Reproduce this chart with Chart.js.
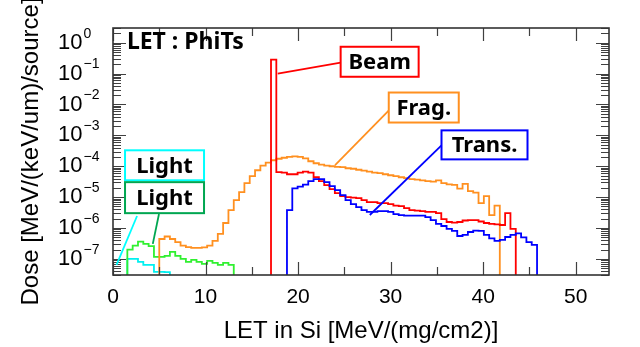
<!DOCTYPE html>
<html>
<head>
<meta charset="utf-8">
<title>LET : PhiTs</title>
<script src="https://cdn.jsdelivr.net/npm/chart.js@4.4.1/dist/chart.umd.min.js"></script>
<style>
  html, body { margin: 0; padding: 0; background: #fff; }
  #wrap { position: relative; width: 640px; height: 347px; }
</style>
</head>
<body>
<div id="wrap"><canvas id="let-chart"></canvas></div>
<script>
//
// LET spectrum in Si (PHITS), dose per LET bin
//

// LET bins, MeV/(mg/cm2)
const binOrigin = 0.4;
const binWidth = 0.575;

// y axis decades that get a label (10^k)
const yTickExponents = [0, -1, -2, -3, -4, -5, -6, -7];

// Light (cyan)
const cyanFirstBin = 2;
const cyanDose = [1.0e-7, 1.0e-7, 8.0e-8, 6.4e-8, 6.4e-8, 3.8e-8, 3.8e-8, 3.7e-8];

// Light (green)
const greenFirstBin = 2;
const greenDose = [
  2.0e-7, 2.7e-7, 3.6e-7, 3.05e-7, 2.6e-7, 1.16e-7, 1.16e-7, 1.25e-7, 1.68e-7, 1.25e-7,
  1.0e-7, 8.0e-8, 9.3e-8, 8.0e-8, 6.9e-8, 8.6e-8, 7.4e-8, 6.4e-8, 7.4e-8, 6.4e-8
];

// Frag. (orange)
const fragFirstBin = 8;
const fragDose = [
  4.4e-7, 5.3e-7, 4.4e-7, 3.5e-7, 2.7e-7, 2.4e-7, 2.26e-7, 2.26e-7, 2.35e-7, 2.7e-7,
  3.8e-7, 6.4e-7, 1.45e-6, 3.8e-6, 8.0e-6, 1.45e-5, 2.83e-5, 4.75e-5, 7.4e-5, 1.04e-4,
  1.30e-4, 1.56e-4, 1.75e-4, 1.88e-4, 2.02e-4, 2.10e-4, 2.02e-4, 1.81e-4, 1.45e-4, 1.25e-4,
  1.12e-4, 1.04e-4, 1.0e-4, 9.6e-5, 9.3e-5, 8.6e-5, 8.3e-5, 7.7e-5, 7.2e-5, 6.65e-5,
  6.2e-5, 5.95e-5, 5.5e-5, 5.1e-5, 4.75e-5, 4.4e-5, 4.1e-5, 3.8e-5, 3.67e-5, 3.5e-5,
  3.3e-5, 3.16e-5, 3.5e-5, 2.83e-5, 2.6e-5, 2.5e-5, 1.88e-5, 2.7e-5, 1.56e-5, 1.4e-5,
  6.4e-6, 1.08e-5, 2.6e-6, 5.3e-6
];

// Beam (red)
const beamFirstBin = 29;
const beamDose = [
  0.283, 6.4e-5, 6.2e-5, 5.5e-5, 5.5e-5, 6.2e-5, 6.65e-5, 6.2e-5, 4.4e-5, 3.3e-5,
  2.44e-5, 1.81e-5, 1.35e-5, 1.08e-5, 1.0e-5, 9.6e-6, 9.3e-6, 8.0e-6, 6.9e-6, 6.9e-6,
  6.4e-6, 6.4e-6, 5.95e-6, 5.3e-6, 5.1e-6, 4.4e-6, 3.8e-6, 3.67e-6, 3.5e-6, 3.3e-6,
  3.3e-6, 3.05e-6, 1.95e-6, 1.56e-6, 1.5e-6, 1.56e-6, 1.75e-6, 1.81e-6, 1.81e-6, 1.62e-6,
  1.45e-6, 1.35e-6, 1.3e-6, 1.25e-6, 3.05e-6, 9.3e-7
];

// Trans. (blue)
const transFirstBin = 32;
const transDose = [
  3.8e-6, 1.91e-5, 2.18e-5, 2.53e-5, 3.3e-5, 3.8e-5, 3.8e-5, 3.05e-5, 2.26e-5, 1.68e-5,
  1.16e-5, 8.0e-6, 5.95e-6, 4.75e-6, 3.8e-6, 3.3e-6, 3.3e-6, 3.5e-6, 3.5e-6, 3.3e-6,
  2.83e-6, 2.6e-6, 2.53e-6, 2.53e-6, 2.53e-6, 2.53e-6, 2.26e-6, 1.81e-6, 1.35e-6, 1.16e-6,
  9.3e-7, 8.0e-7, 5.5e-7, 5.95e-7, 7.4e-7, 8.2e-7, 8.0e-7, 5.95e-7, 4.6e-7, 3.8e-7,
  4.1e-7, 5.1e-7, 5.95e-7, 6.65e-7, 4.95e-7, 3.5e-7, 2.83e-7
];

// far below the axis, so histograms drop to the frame
const floorDose = 1e-12;

const axisFont = "'Liberation Sans', Arial, Helvetica, sans-serif";
const labelFont = "'Noto Sans', 'Liberation Sans', sans-serif";

function histogramPoints(firstBin, dose) {
  const edge = n => binOrigin + n * binWidth;
  const pts = [{ x: edge(firstBin), y: floorDose }];
  dose.forEach((d, i) => pts.push({ x: edge(firstBin + i), y: d }));
  pts.push({ x: edge(firstBin + dose.length), y: floorDose });
  return pts;
}

// callout boxes, anchored in data units (LET, dose)
const callouts = [
  { text: "Beam", color: "#ff0000", box: [24.6, 0.74], w: 78, h: 30, from: [17.8, 0.1], to: [24.6, 0.226] },
  { text: "Frag.", color: "#ff9020", box: [29.8, 0.0244], w: 70, h: 30, from: [24.0, 1.08e-4], to: [30.0, 7.4e-3] },
  { text: "Trans.", color: "#0000ff", box: [35.5, 1.45e-3], w: 86, h: 29, from: [27.75, 2.63e-6], to: [35.5, 4.76e-4] },
  { text: "Light", color: "#00ffff", box: [1.3, 3.28e-4], w: 79, h: 30, from: [0.38, 6.4e-8], to: [2.6, 2.44e-6] },
  { text: "Light", color: "#00a651", box: [1.3, 3.05e-5], w: 79, h: 31, from: [4.3, 3.05e-7], to: [4.97, 2.83e-6] }
];

const frameAndTicks = {
  id: "frameAndTicks",
  afterDatasetsDraw(chart) {
    const { ctx, chartArea: a, scales: { x, y } } = chart;
    ctx.save();
    ctx.strokeStyle = "#404040";
    ctx.lineWidth = 1.2;
    ctx.beginPath();
    for (let v = 0; v <= x.max; v += 5) {
      const px = Math.round(x.getPixelForValue(v)) + 0.5;
      const len = v % 10 === 0 ? 13 : 8;
      ctx.moveTo(px, a.bottom); ctx.lineTo(px, a.bottom - len);
      ctx.moveTo(px, a.top); ctx.lineTo(px, a.top + len);
    }
    const kLo = Math.floor(Math.log10(y.min));
    const kHi = Math.ceil(Math.log10(y.max));
    for (let k = kLo; k <= kHi; k++) {
      for (let d = 1; d <= 9; d++) {
        const v = d * Math.pow(10, k);
        if (v < y.min || v > y.max) continue;
        const py = Math.round(y.getPixelForValue(v)) + 0.5;
        const len = d === 1 ? 13 : 8;
        ctx.moveTo(a.left, py); ctx.lineTo(a.left + len, py);
        ctx.moveTo(a.right, py); ctx.lineTo(a.right - len, py);
      }
    }
    ctx.stroke();
    ctx.lineWidth = 1.6;
    ctx.strokeStyle = "#333";
    ctx.strokeRect(a.left, a.top, a.right - a.left, a.bottom - a.top);
    ctx.restore();
  }
};

const decadeLabels = {
  id: "decadeLabels",
  afterDraw(chart) {
    const { ctx, chartArea: a, scales: { y } } = chart;
    ctx.save();
    ctx.fillStyle = "#000";
    ctx.textBaseline = "middle";
    ctx.textAlign = "left";
    yTickExponents.forEach(k => {
      const py = y.getPixelForValue(Math.pow(10, k));
      const x0 = a.left - 55;
      ctx.font = "22px " + axisFont;
      ctx.fillText("10", x0, py);
      const w = ctx.measureText("10").width;
      ctx.font = "14px " + axisFont;
      ctx.fillText(k < 0 ? "\u2212" + (-k) : String(k), x0 + w + 1, py - 9);
    });
    ctx.restore();
  }
};

const calloutBoxes = {
  id: "calloutBoxes",
  afterDraw(chart) {
    const { ctx, chartArea: a, scales: { x, y } } = chart;
    ctx.save();
    // title inside the frame
    ctx.fillStyle = "#000";
    ctx.font = "bold 23px " + labelFont;
    ctx.textBaseline = "middle";
    ctx.textAlign = "left";
    ctx.fillText("LET : PhiTs", x.getPixelForValue(1.5), y.getPixelForValue(1));

    callouts.forEach(c => {
      ctx.strokeStyle = c.color;
      ctx.lineWidth = 1.8;
      ctx.beginPath();
      ctx.moveTo(x.getPixelForValue(c.from[0]), y.getPixelForValue(c.from[1]));
      ctx.lineTo(x.getPixelForValue(c.to[0]), y.getPixelForValue(c.to[1]));
      ctx.stroke();
    });
    callouts.forEach(c => {
      const bx = x.getPixelForValue(c.box[0]);
      const by = y.getPixelForValue(c.box[1]);
      ctx.fillStyle = "#fff";
      ctx.fillRect(bx, by, c.w, c.h);
      ctx.strokeStyle = c.color;
      ctx.lineWidth = 2;
      ctx.strokeRect(bx, by, c.w, c.h);
      ctx.fillStyle = "#000";
      ctx.font = "bold 22px " + labelFont;
      ctx.textAlign = "center";
      ctx.fillText(c.text, bx + c.w / 2, by + c.h / 2 + 1);
    });
    ctx.restore();
  }
};

function histDataset(points, color) {
  return {
    data: points,
    borderColor: color,
    borderWidth: 1.8,
    stepped: true,
    pointRadius: 0,
    fill: false
  };
}

new Chart("let-chart", {
  type: "line",
  data: {
    datasets: [
      histDataset(histogramPoints(transFirstBin, transDose), "#0000ff"),
      histDataset(histogramPoints(beamFirstBin, beamDose), "#ff0000"),
      histDataset(histogramPoints(fragFirstBin, fragDose), "#ff9020"),
      histDataset(histogramPoints(greenFirstBin, greenDose), "#30f030"),
      histDataset(histogramPoints(cyanFirstBin, cyanDose), "#00f0f0")
    ]
  },
  options: {
    responsive: true,
    maintainAspectRatio: false,
    animation: false,
    layout: { padding: { top: 28, right: 31, left: 0, bottom: 0 } },
    plugins: { legend: { display: false }, tooltip: { enabled: false } },
    scales: {
      x: {
        type: "linear",
        min: 0,
        max: 53.6,
        grid: { display: false, drawTicks: false },
        border: { display: false },
        ticks: {
          stepSize: 5,
          includeBounds: false,
          autoSkip: false,
          maxRotation: 0,
          padding: 10,
          color: "#000",
          font: { family: axisFont, size: 21 },
          callback: v => (v % 10 === 0 ? v : "")
        },
        title: {
          display: true,
          text: "LET in Si [MeV/(mg/cm2)]",
          color: "#000",
          font: { family: axisFont, size: 24 },
          padding: { top: 0, bottom: 1 }
        },
        afterFit: s => { s.height = 72; }
      },
      y: {
        type: "logarithmic",
        min: 3.3e-8,
        max: 3,
        grid: { display: false, drawTicks: false },
        border: { display: false },
        ticks: { display: false },
        title: {
          display: true,
          text: "Dose [MeV/(keV/um)/source]",
          color: "#000",
          font: { family: axisFont, size: 24 },
          padding: { top: 17, bottom: 0 }
        },
        afterFit: s => { s.width = 113; }
      }
    }
  },
  plugins: [frameAndTicks, decadeLabels, calloutBoxes]
});
</script>
</body>
</html>
